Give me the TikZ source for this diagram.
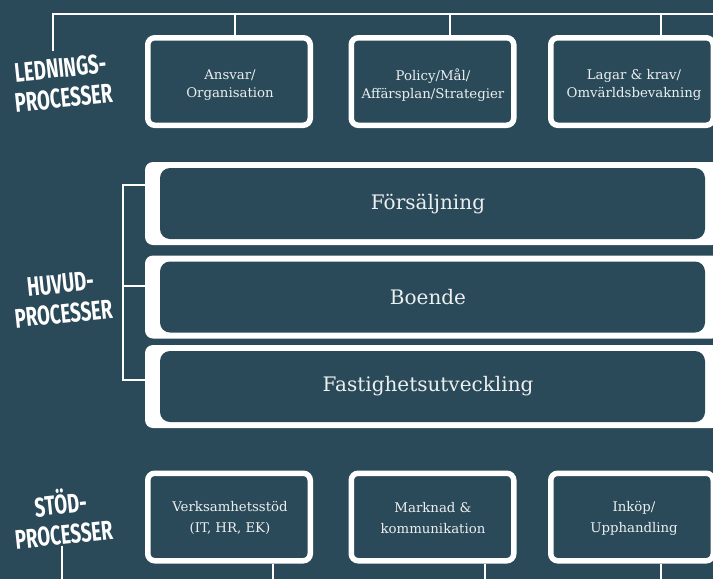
\documentclass[tikz,border=0pt]{standalone}
\usepackage{fontspec}
\setmainfont{DejaVu Serif}
\newfontfamily\handfont{Fira Sans}
\usetikzlibrary{calc}
\definecolor{bg}{RGB}{42,74,89}
\definecolor{txt}{RGB}{236,239,240}
\begin{document}
\begin{tikzpicture}[x=1pt,y=-1pt,
  smallbox/.style={draw=white,line width=5.5pt,fill=bg,rounded corners=7pt,
    minimum width=162.5pt,minimum height=87.5pt,inner sep=0pt},
  toptext/.style={text=txt,align=center,font=\fontsize{13.3}{18}\selectfont},
  bottext/.style={text=txt,align=center,font=\fontsize{13.3}{21}\selectfont},
  mainouter/.style={fill=white,rounded corners=8pt,inner sep=0pt,minimum width=575pt,minimum height=83pt},
  maininner/.style={fill=bg,rounded corners=10pt,inner sep=0pt,minimum width=545pt,minimum height=71pt},
  maintext/.style={text=txt,font=\fontsize{20}{24}\selectfont},
  lab/.style={text=white,align=center,font=\handfont\bfseries\fontsize{27}{30}\selectfont,
    rotate=6,xscale=0.69,inner sep=0pt},
  conn/.style={draw=white,line width=1.5pt}]
\fill[bg] (0,0) rectangle (713,579);
\useasboundingbox (0,0) rectangle (713,579);
% labels
\node[lab] (led) at (62,83) {LEDNINGS-\\PROCESSER};
\node[lab] (huv) at (62,299) {HUVUD-\\PROCESSER};
\node[lab] (sto) at (62,517) {STÖD-\\PROCESSER};
% top boxes
\node[smallbox] (a1) at (229,81.5) {};
\node[smallbox] (a2) at (432.5,81.5) {};
\node[smallbox] (a3) at (632,81.5) {};
\node[toptext] (a1t) at (230,85) {Ansvar/\\Organisation};
\node[toptext] (a2t) at (433,85) {Policy/Mål/\\Affärsplan/Strategier};
\node[toptext] (a3t) at (634,85) {Lagar \& krav/\\Omvärldsbevakning};
% bottom boxes
\node[smallbox] (b1) at (229,517) {};
\node[smallbox] (b2) at (432.5,517) {};
\node[smallbox] (b3) at (632,517) {};
\node[bottext] (b1t) at (230,518) {Verksamhetsstöd\\(IT, HR, EK)};
\node[bottext] (b2t) at (433,518) {Marknad \&\\kommunikation};
\node[bottext] (b3t) at (634,518) {Inköp/\\Upphandling};
% main process boxes
\node[mainouter] (fs) at (432.5,203.5) {};
\node[maininner] (fsT) at (432.5,203.5) {};
\node[maintext] (fsL) at (428,204) {Försäljning};
\node[mainouter] (bo) at (432.5,297) {};
\node[maininner] (boT) at (432.5,297) {};
\node[maintext] (boL) at (428,297) {Boende};
\node[mainouter] (fa) at (432.5,386.5) {};
\node[maininner] (faT) at (432.5,386.5) {};
\node[maintext] (faL) at (428,386) {Fastighetsutveckling};
% top connector
\coordinate (tl) at (53,14);
\coordinate (tr) at (713,14);
\coordinate (t1) at (235,14);
\coordinate (t2) at (450,14);
\coordinate (t3) at (661,14);
\coordinate (ls) at (53,51);
\draw[conn] (ls) -- (tl) -- (tr);
\draw[conn] (t1) -- (t1 |- a1.north);
\draw[conn] (t2) -- (t2 |- a2.north);
\draw[conn] (t3) -- (t3 |- a3.north);
% bracket
\coordinate (k1) at (123,185);
\coordinate (k2) at (123,286);
\coordinate (k3) at (123,380);
\draw[conn] (fs.west |- k1) -- (k1) -- (k3) -- (fa.west |- k3);
\draw[conn] (k2) -- (bo.west |- k2);
% bottom connectors
\coordinate (s0) at (62,546);
\coordinate (e0) at (62,579);
\coordinate (e1) at (273,579);
\coordinate (e2) at (485,579);
\coordinate (e3) at (661,579);
\draw[conn] (s0) -- (e0);
\draw[conn] (e1 |- b1.south) -- (e1);
\draw[conn] (e2 |- b2.south) -- (e2);
\draw[conn] (e3 |- b3.south) -- (e3);
\end{tikzpicture}
\end{document}
